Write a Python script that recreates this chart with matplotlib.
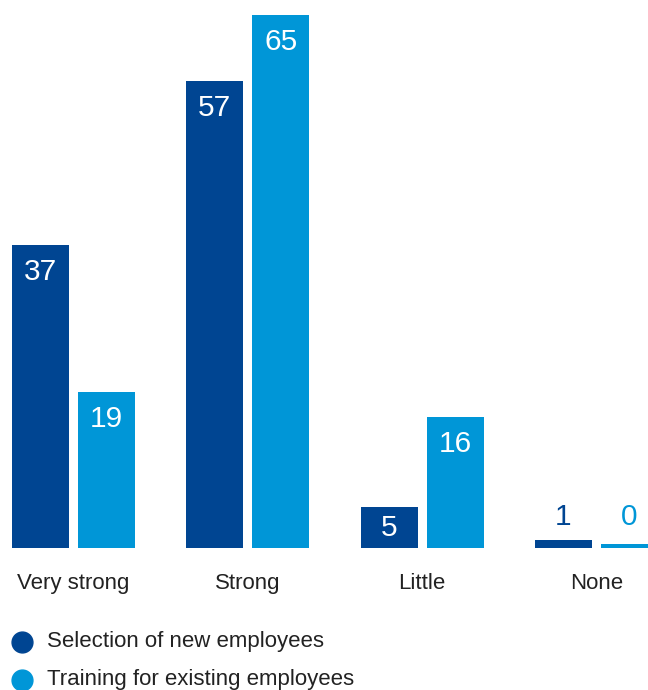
import numpy as np
import matplotlib
matplotlib.use("Agg")
import matplotlib.pyplot as plt
from matplotlib.lines import Line2D

plt.rcParams['font.family'] = ['Liberation Sans', 'DejaVu Sans']

categories = ["Very strong", "Strong", "Little", "None"]
series_names = ["Selection of new employees", "Training for existing employees"]
selection = [37, 57, 5, 1]
training = [19, 65, 16, 0]
colors = ["#004592", "#0096D7"]

W, H = 648, 690
fig = plt.figure(figsize=(W / 100, H / 100), dpi=100)
ax = fig.add_axes([0, 142 / H, 1, 1 - 142 / H])

x = np.arange(len(categories))
w = 57 / 174
off = 33 / 174
for vals, sign, col in [(selection, -1, colors[0]), (training, 1, colors[1])]:
    # zero values still get a thin stub, like in the original
    heights = [max(v, 0.45) for v in vals]
    ax.bar(x + sign * off, heights, width=w, color=col, linewidth=0)
    for xi, v in zip(x + sign * off, vals):
        if v >= 4:
            ax.text(xi, max(v - 3.3, v / 2), str(v), ha='center', va='center',
                    color='white', fontsize=21.5)
        else:
            ax.text(xi, 3.8, str(v), ha='center', va='center', color=col, fontsize=21.5)

ax.set_xlim(-0.3535 - 12 / 174, 3.3535 - 10 / 174)
ax.set_ylim(0, (H - 142) / 8.2)
ax.axis('off')

for xi, c in zip(x, categories):
    ax.text(xi, -4.3, c, ha='center', va='center', fontsize=16, color='#222222')

for i, (name, col) in enumerate(zip(series_names, colors)):
    yy = 1 - (642 + 38 * i) / H
    fig.add_artist(Line2D([22 / W], [yy], marker='o', markersize=15, color=col,
                          ls='', transform=fig.transFigure))
    fig.text(47 / W, yy, name, ha='left', va='center', fontsize=16, color='#222222')

fig.savefig("out.png", dpi=100)
